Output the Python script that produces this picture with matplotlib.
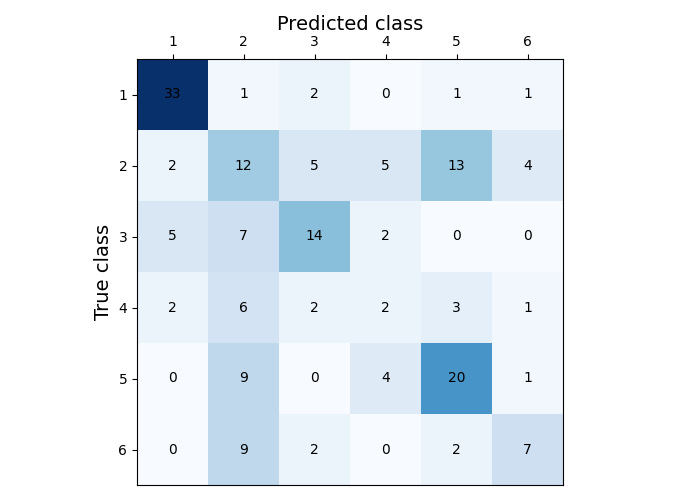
import matplotlib
matplotlib.use("Agg")
import matplotlib.pyplot as plt
import numpy as np

labels = ["1", "2", "3", "4", "5", "6"]
row1 = [33, 1, 2, 0, 1, 1]
row2 = [2, 12, 5, 5, 13, 4]
row3 = [5, 7, 14, 2, 0, 0]
row4 = [2, 6, 2, 2, 3, 1]
row5 = [0, 9, 0, 4, 20, 1]
row6 = [0, 9, 2, 0, 2, 7]
cm = np.array([row1, row2, row3, row4, row5, row6])

fig = plt.figure(figsize=(7, 5), dpi=100)
ax = fig.add_axes([137/700, 15/500, 426/700, 426/500])
ax.imshow(cm, cmap="Blues", interpolation="nearest", aspect="auto")
for i in range(cm.shape[0]):
    for j in range(cm.shape[1]):
        ax.text(j, i, str(cm[i, j]), ha="center", va="center", color="black", fontsize=10)
ax.set_xticks(range(len(labels)))
ax.set_yticks(range(len(labels)))
ax.set_xticklabels(labels)
ax.set_yticklabels(labels)
ax.xaxis.tick_top()
ax.xaxis.set_label_position("top")
ax.set_xlabel("Predicted class", fontsize=14)
ax.set_ylabel("True class", fontsize=14)
fig.savefig("out.png", dpi=100)
